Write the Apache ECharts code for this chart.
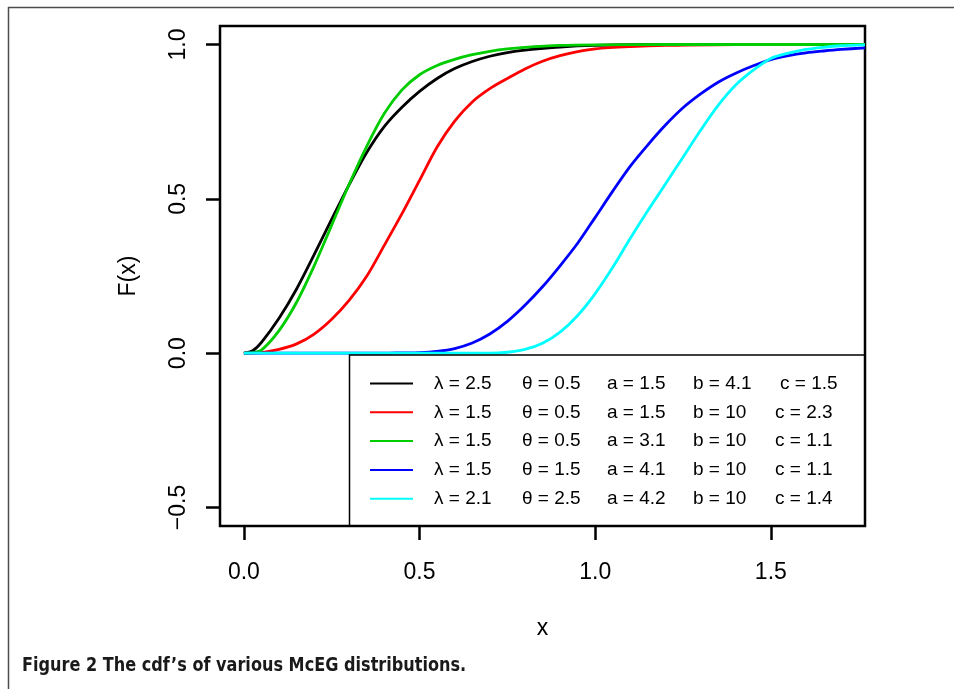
<!DOCTYPE html>
<html>
<head>
<meta charset="utf-8">
<script src="https://cdn.jsdelivr.net/npm/echarts@6/dist/echarts.min.js"></script>
<style>
  html, body { margin: 0; padding: 0; background: #fff; }
  #chart { width: 954px; height: 689px; }
</style>
</head>
<body>
<div id="chart"></div>
<script>
// Cumulative distribution curves F(x), as [x, F(x)] points
const cdfBlack = [[0,0],[0.025,0.008],[0.05,0.035],[0.1,0.113],[0.15,0.208],[0.2,0.319],[0.25,0.434],[0.3,0.547],[0.35,0.651],[0.4,0.735],[0.45,0.797],[0.5,0.848],[0.55,0.89],[0.6,0.922],[0.65,0.945],[0.7,0.962],[0.75,0.974],[0.8,0.982],[0.9,0.992],[1.0,0.997],[1.2,1.0],[1.5,1.0],[1.768,1.0]];
const cdfRed = [[0,0],[0.05,0.002],[0.1,0.012],[0.15,0.03],[0.2,0.062],[0.25,0.11],[0.3,0.172],[0.35,0.25],[0.4,0.35],[0.45,0.452],[0.5,0.56],[0.55,0.668],[0.6,0.752],[0.65,0.814],[0.7,0.857],[0.75,0.89],[0.8,0.921],[0.85,0.946],[0.9,0.964],[0.95,0.977],[1.0,0.986],[1.1,0.993],[1.2,0.997],[1.4,1.0],[1.768,1.0]];
const cdfGreen = [[0,0],[0.025,0.002],[0.05,0.01],[0.1,0.073],[0.15,0.165],[0.2,0.283],[0.25,0.415],[0.3,0.548],[0.35,0.671],[0.4,0.777],[0.45,0.853],[0.5,0.902],[0.55,0.932],[0.6,0.952],[0.65,0.967],[0.7,0.978],[0.75,0.986],[0.8,0.991],[0.9,0.997],[1.0,0.999],[1.2,1.0],[1.768,1.0]];
const cdfBlue = [[0,0],[0.4,0],[0.45,0.001],[0.5,0.002],[0.55,0.006],[0.6,0.015],[0.65,0.033],[0.7,0.062],[0.75,0.103],[0.8,0.155],[0.85,0.215],[0.9,0.283],[0.95,0.356],[1.0,0.44],[1.05,0.525],[1.1,0.606],[1.15,0.675],[1.2,0.739],[1.25,0.795],[1.3,0.84],[1.35,0.878],[1.4,0.907],[1.45,0.931],[1.5,0.951],[1.55,0.964],[1.6,0.973],[1.65,0.979],[1.7,0.984],[1.768,0.989]];
const cdfCyan = [[0,0],[0.7,0],[0.75,0.003],[0.8,0.012],[0.85,0.032],[0.9,0.068],[0.95,0.122],[1.0,0.193],[1.05,0.278],[1.1,0.372],[1.15,0.462],[1.2,0.548],[1.25,0.635],[1.3,0.722],[1.35,0.803],[1.4,0.869],[1.45,0.917],[1.5,0.955],[1.55,0.972],[1.6,0.984],[1.65,0.991],[1.7,0.996],[1.768,0.999]];

// Distribution parameters shown in the legend, one entry per curve
const lambdaVals = ['2.5', '1.5', '1.5', '1.5', '2.1'];
const thetaVals  = ['0.5', '0.5', '0.5', '1.5', '2.5'];
const aVals      = ['1.5', '1.5', '3.1', '4.1', '4.2'];
const bVals      = ['4.1', '10', '10', '10', '10'];
const cVals      = ['1.5', '2.3', '1.1', '1.1', '1.4'];

const curveData = [cdfBlack, cdfRed, cdfGreen, cdfBlue, cdfCyan];
const curveColors = ['#000000', '#ff0000', '#00cd00', '#0000ff', '#00ffff'];

// Axis ticks
const xTickVals = [0, 0.5, 1, 1.5];
const yTickVals = [-0.5, 0, 0.5, 1];

const FONT = '"Liberation Sans", Arial, Helvetica, sans-serif';
const fmt = v => (v < 0 ? '\u2212' : '') + Math.abs(v).toFixed(1);

const names = lambdaVals.map((l, i) =>
  'λ = ' + l + '|θ = ' + thetaVals[i] + '|a = ' + aVals[i] + '|b = ' + bVals[i] + '|c = ' + cVals[i]);

const series = curveData.map((d, i) => ({
  name: names[i],
  type: 'line',
  data: d,
  showSymbol: false,
  smooth: 0.3,
  clip: true,
  color: curveColors[i],
  lineStyle: { width: 2.8, color: curveColors[i] },
  emphasis: { disabled: true },
  animation: false
}));

const cell = (w) => ({ width: w, fontSize: 19, lineHeight: 22, color: '#000', fontFamily: FONT });

const chart = echarts.init(document.getElementById('chart'), null, { renderer: 'canvas' });
chart.setOption({
  backgroundColor: '#ffffff',
  animation: false,
  grid: {
    left: 220, top: 26, right: 89, bottom: 163,
    show: true, borderColor: '#000', borderWidth: 2.5, backgroundColor: 'transparent'
  },
  xAxis: {
    type: 'value',
    min: -0.068, max: 1.768,
    axisLine: { show: false, onZero: false },
    splitLine: { show: false },
    axisTick: { show: true, customValues: xTickVals, length: 14, lineStyle: { color: '#000', width: 2.5 } },
    axisLabel: { customValues: xTickVals, formatter: fmt, fontSize: 23, color: '#000', fontFamily: FONT, margin: 35 },
    name: 'x',
    nameLocation: 'middle',
    nameGap: 91,
    nameTextStyle: { fontSize: 23, color: '#000', fontFamily: FONT }
  },
  yAxis: {
    type: 'value',
    min: -0.56, max: 1.06,
    axisLine: { show: false, onZero: false },
    splitLine: { show: false },
    axisTick: { show: true, customValues: yTickVals, length: 14, lineStyle: { color: '#000', width: 2.5 } },
    axisLabel: { customValues: yTickVals, formatter: fmt, rotate: 90, fontSize: 23, color: '#000', fontFamily: FONT, margin: 30 },
    name: 'F(x)',
    nameLocation: 'middle',
    nameRotate: 90,
    nameGap: 80,
    nameTextStyle: { fontSize: 23, color: '#000', fontFamily: FONT }
  },
  legend: {
    show: true,
    orient: 'vertical',
    left: 370, top: 374,
    padding: 0,
    itemGap: 9.8,
    itemWidth: 43,
    itemHeight: 2,
    icon: 'rect',
    selectedMode: false,
    data: names,
    formatter: (name) => {
      const i = names.indexOf(name);
      const bKey = bVals[i].length > 2 ? 'bw' : 'b';
      return '{g|\u00a0}{l|λ = ' + lambdaVals[i] + '}{t|θ = ' + thetaVals[i] + '}{a|a = ' + aVals[i] +
             '}{' + bKey + '|b = ' + bVals[i] + '}{c|c = ' + cVals[i] + '}';
    },
    textStyle: {
      fontSize: 19, color: '#000', fontFamily: FONT,
      rich: { g: cell(16), l: cell(88), t: cell(85), a: cell(86), b: cell(82), bw: cell(87), c: cell(80) }
    }
  },
  graphic: [
    { type: 'line', silent: true, shape: { x1: 8, y1: 7.5, x2: 954, y2: 7.5 }, style: { stroke: '#4d4d4d', lineWidth: 1.5 } },
    { type: 'line', silent: true, shape: { x1: 8.5, y1: 7, x2: 8.5, y2: 689 }, style: { stroke: '#4d4d4d', lineWidth: 1.5 } },
    { type: 'rect', silent: true, z: 5, shape: { x: 349.5, y: 355, width: 515.5, height: 171 }, style: { fill: 'none', stroke: '#000', lineWidth: 1.5 } },
    { type: 'text', silent: true, x: 22, y: 656, scaleX: 0.895,
      style: { text: 'Figure 2 The cdf\u2019s of various McEG distributions.', fill: '#1a1a1a',
               font: 'bold 20px "DejaVu Sans Condensed", sans-serif' } }
  ],
  series: series
});
</script>
</body>
</html>
